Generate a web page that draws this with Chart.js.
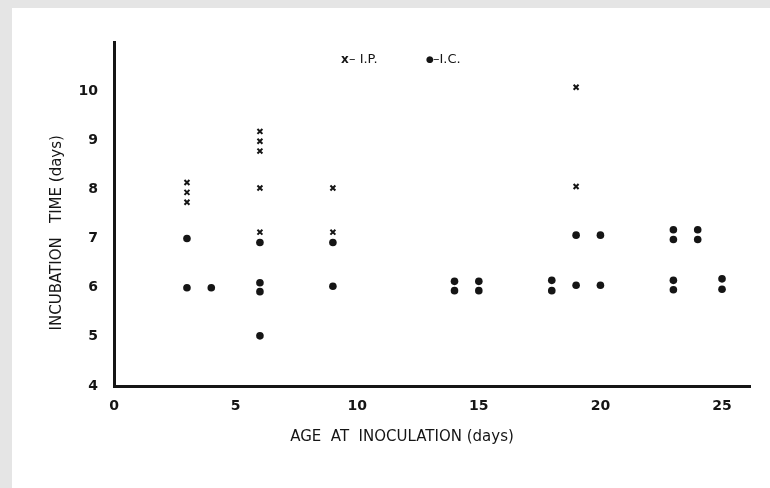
<!DOCTYPE html>
<html>
<head>
<meta charset="utf-8">
<script src="https://cdn.jsdelivr.net/npm/chart.js@4"></script>
<style>
  html, body { margin: 0; padding: 0; background: #e5e5e5; }
  #wrap { position: absolute; left: 0; top: 0; width: 770px; height: 488px; }
</style>
</head>
<body>
<div id="wrap"><canvas id="c" width="770" height="488"></canvas></div>
<script>
// ---- data ----
const ipAge  = [3, 3, 3, 6, 6, 6, 6, 6, 9, 9, 19, 19];
const ipTime = [8.14, 7.94, 7.74, 9.18, 8.98, 8.78, 8.03, 7.13, 8.03, 7.13, 10.08, 8.06];

const icAge  = [3, 3, 4, 6, 6, 6, 6, 9, 9, 14, 14, 15, 15, 18, 18, 19, 19, 20, 20, 23, 23, 23, 23, 24, 24, 25, 25];
const icTime = [7.0, 6.0, 6.0, 6.92, 6.1, 5.92, 5.02, 6.92, 6.03, 6.13, 5.94, 6.13, 5.94, 6.15, 5.94, 7.07, 6.05, 7.07, 6.05, 7.18, 6.98, 6.15, 5.96, 7.18, 6.98, 6.18, 5.97];

const xTicks = [0, 5, 10, 15, 20, 25];
const yTicks = [4, 5, 6, 7, 8, 9, 10];
// trailing em/en spaces only shift the centred title to where the reference has it
const xTitle = 'AGE  AT  INOCULATION (days)\u2003\u2003\u2003\u2003';
const yTitle = 'INCUBATION   TIME (days)\u2003\u2003\u2002';
const legendIPMark = 'x';
const legendIPText = '\u2013 I.P.';
const legendICMark = '\u25CF';
const legendICText = '\u2013I.C.';

const ink = '#151515';
const FONT = '"DejaVu Sans", sans-serif';

const toPts = (xs, ys) => xs.map((x, i) => ({ x: x, y: ys[i] }));

const backgroundPlugin = {
  id: 'paper',
  beforeDraw(chart) {
    const ctx = chart.ctx;
    ctx.save();
    ctx.fillStyle = '#e5e5e5';
    ctx.fillRect(0, 0, chart.width, chart.height);
    ctx.fillStyle = '#ffffff';
    ctx.fillRect(12, 8, chart.width - 12, chart.height - 8);
    ctx.restore();
  }
};

const legendPlugin = {
  id: 'textLegend',
  afterDraw(chart) {
    const ctx = chart.ctx;
    ctx.save();
    ctx.fillStyle = ink;
    ctx.textBaseline = 'middle';
    ctx.textAlign = 'left';
    ctx.font = 'bold 12px ' + FONT;
    ctx.fillText(legendIPMark, 341, 60);
    ctx.font = '13px ' + FONT;
    ctx.fillText(legendIPText, 349, 60);
    ctx.font = '9px ' + FONT;
    ctx.fillText(legendICMark, 426, 60);
    ctx.font = '13px ' + FONT;
    ctx.fillText(legendICText, 433, 60);
    ctx.restore();
  }
};

new Chart(document.getElementById('c'), {
  type: 'scatter',
  data: {
    datasets: [
      {
        label: 'I.P.',
        data: toPts(ipAge, ipTime),
        pointStyle: 'crossRot',
        pointRadius: 3.5,
        borderWidth: 2,
        borderColor: ink,
        backgroundColor: ink
      },
      {
        label: 'I.C.',
        data: toPts(icAge, icTime),
        pointStyle: 'circle',
        pointRadius: 3.8,
        borderWidth: 0,
        borderColor: ink,
        backgroundColor: ink
      }
    ]
  },
  options: {
    responsive: false,
    animation: false,
    layout: { padding: { left: 0, top: 42, right: 20, bottom: 0 } },
    plugins: {
      legend: { display: false },
      tooltip: { enabled: false }
    },
    scales: {
      x: {
        type: 'linear',
        min: 0,
        max: 26.15,
        afterFit(s) { s.height = 102; },
        afterBuildTicks(s) { s.ticks = xTicks.map(v => ({ value: v })); },
        grid: { display: false },
        border: { display: true, width: 3, color: ink },
        ticks: {
          color: ink,
          padding: 4,
          font: { family: FONT, size: 14, weight: 'bold' },
          callback: v => String(v)
        },
        title: {
          display: true,
          text: xTitle,
          color: ink,
          font: { family: FONT, size: 15 },
          padding: { top: 0, bottom: 42 }
        }
      },
      y: {
        type: 'linear',
        min: 4,
        max: 11,
        afterFit(s) { s.width = 114; },
        afterBuildTicks(s) { s.ticks = yTicks.map(v => ({ value: v })); },
        grid: { display: false },
        border: { display: true, width: 3, color: ink },
        ticks: {
          color: ink,
          padding: 8,
          font: { family: FONT, size: 14, weight: 'bold' },
          callback: v => String(v)
        },
        title: {
          display: true,
          text: yTitle,
          color: ink,
          font: { family: FONT, size: 15 },
          padding: { top: 48, bottom: 0 }
        }
      }
    }
  },
  plugins: [backgroundPlugin, legendPlugin]
});
</script>
</body>
</html>
